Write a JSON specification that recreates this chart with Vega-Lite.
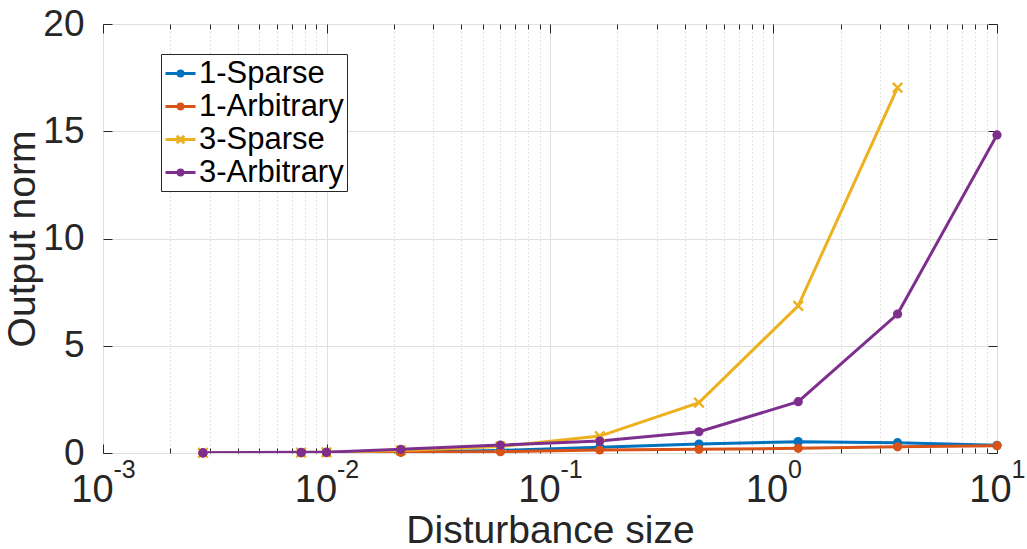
{
  "$schema": "https://vega.github.io/schema/vega-lite/v6.json",
  "autosize": {"type": "none"},
  "width": 894,
  "height": 429,
  "padding": {"left": 103, "top": 24, "right": 30, "bottom": 96},
  "background": "white",
  "config": {
    "view": {"stroke": "#262626", "strokeWidth": 1},
    "font": "Liberation Sans",
    "axis": {
      "domain": false,
      "labelFont": "Liberation Sans",
      "titleFont": "Liberation Sans",
      "labelColor": "#262626",
      "titleColor": "#262626",
      "tickColor": "#262626",
      "titleFontWeight": "normal",
      "labelFontSize": 37,
      "titleFontSize": 39
    }
  },
  "datasets": {
    "runs": [
      {"series": "1-Sparse", "size": 0.0028, "norm": 0.005},
      {"series": "1-Sparse", "size": 0.0077, "norm": 0.015},
      {"series": "1-Sparse", "size": 0.01, "norm": 0.02},
      {"series": "1-Sparse", "size": 0.0215, "norm": 0.05},
      {"series": "1-Sparse", "size": 0.06, "norm": 0.12},
      {"series": "1-Sparse", "size": 0.167, "norm": 0.27},
      {"series": "1-Sparse", "size": 0.464, "norm": 0.42},
      {"series": "1-Sparse", "size": 1.29, "norm": 0.53},
      {"series": "1-Sparse", "size": 3.59, "norm": 0.48},
      {"series": "1-Sparse", "size": 10, "norm": 0.36},
      {"series": "1-Arbitrary", "size": 0.0028, "norm": 0.003},
      {"series": "1-Arbitrary", "size": 0.0077, "norm": 0.008},
      {"series": "1-Arbitrary", "size": 0.01, "norm": 0.012},
      {"series": "1-Arbitrary", "size": 0.0215, "norm": 0.03},
      {"series": "1-Arbitrary", "size": 0.06, "norm": 0.06},
      {"series": "1-Arbitrary", "size": 0.167, "norm": 0.14},
      {"series": "1-Arbitrary", "size": 0.464, "norm": 0.17},
      {"series": "1-Arbitrary", "size": 1.29, "norm": 0.22},
      {"series": "1-Arbitrary", "size": 3.59, "norm": 0.29},
      {"series": "1-Arbitrary", "size": 10, "norm": 0.34},
      {"series": "3-Sparse", "size": 0.0028, "norm": 0.006},
      {"series": "3-Sparse", "size": 0.0077, "norm": 0.02},
      {"series": "3-Sparse", "size": 0.01, "norm": 0.03},
      {"series": "3-Sparse", "size": 0.0215, "norm": 0.12},
      {"series": "3-Sparse", "size": 0.06, "norm": 0.3},
      {"series": "3-Sparse", "size": 0.167, "norm": 0.79},
      {"series": "3-Sparse", "size": 0.464, "norm": 2.35},
      {"series": "3-Sparse", "size": 1.29, "norm": 6.86},
      {"series": "3-Sparse", "size": 3.59, "norm": 17.03},
      {"series": "3-Arbitrary", "size": 0.0028, "norm": 0.01},
      {"series": "3-Arbitrary", "size": 0.0077, "norm": 0.03},
      {"series": "3-Arbitrary", "size": 0.01, "norm": 0.04},
      {"series": "3-Arbitrary", "size": 0.0215, "norm": 0.17},
      {"series": "3-Arbitrary", "size": 0.06, "norm": 0.37},
      {"series": "3-Arbitrary", "size": 0.167, "norm": 0.56},
      {"series": "3-Arbitrary", "size": 0.464, "norm": 0.99},
      {"series": "3-Arbitrary", "size": 1.29, "norm": 2.39},
      {"series": "3-Arbitrary", "size": 3.59, "norm": 6.48},
      {"series": "3-Arbitrary", "size": 10, "norm": 14.83}
    ]
  },
  "data": {"name": "runs"},
  "resolve": {"axis": {"x": "independent", "y": "independent"}},
  "layer": [
    {
      "mark": {"type": "line", "strokeWidth": 3, "clip": true},
      "encoding": {
        "x": {
          "field": "size", "type": "quantitative",
          "scale": {"type": "log", "domain": [0.001, 10], "nice": false},
          "axis": {
            "orient": "bottom",
            "values": [0.001, 0.01, 0.1, 1, 10],
            "labelExpr": "'10'",
            "labelFontSize": 38,
            "labelOffset": {"condition": {"test": "datum.value < 0.5", "value": -11}, "value": -7},
            "tickSize": -9,
            "labelPadding": 27,
            "labelFlush": false,
            "grid": true,
            "gridColor": "#dfdfdf",
            "gridWidth": 1,
            "title": "Disturbance size",
            "titlePadding": 2
          }
        },
        "y": {
          "field": "norm", "type": "quantitative",
          "scale": {"domain": [0, 20], "nice": false, "zero": true},
          "axis": {
            "orient": "left",
            "values": [0, 5, 10, 15, 20],
            "tickSize": -9,
            "labelPadding": 28,
            "grid": true,
            "gridColor": "#dfdfdf",
            "gridWidth": 1,
            "title": "Output norm",
            "titlePadding": 0
          }
        },
        "color": {
          "field": "series", "type": "nominal",
          "scale": {
            "domain": ["1-Sparse", "1-Arbitrary", "3-Sparse", "3-Arbitrary"],
            "range": ["#0072BD", "#D95319", "#EDB120", "#7E2F8E"]
          },
          "legend": {
            "title": null,
            "orient": "none",
            "legendX": 58,
            "legendY": 30,
            "padding": 3,
            "strokeColor": "#262626",
            "fillColor": "white",
            "labelFont": "Liberation Sans",
            "labelFontSize": 31,
            "labelColor": "#000000",
            "labelOffset": 2,
            "symbolSize": 900,
            "symbolStrokeWidth": 3,
            "symbolType": {"expr": "datum.value === '3-Sparse' ? 'M-1,0L1,0M-0.25,-0.25L0.25,0.25M-0.25,0.25L0.25,-0.25' : 'M-1,0L1,0M0.16,0A0.16,0.16,0,1,1,-0.16,0A0.16,0.16,0,1,1,0.16,0'"},
            "rowPadding": 1
          }
        }
      }
    },
    {
      "transform": [{"filter": "datum.series === '3-Sparse'"}],
      "mark": {"type": "point", "shape": "M-1,-1L1,1M-1,1L1,-1", "filled": false, "opacity": 1, "size": 90, "strokeWidth": 2.4},
      "encoding": {
        "x": {
          "field": "size", "type": "quantitative",
          "axis": {
            "orient": "top",
            "values": [0.001, 0.01, 0.1, 1, 10],
            "labels": false,
            "tickSize": -9,
            "grid": false,
            "title": null
          }
        },
        "y": {"field": "norm", "type": "quantitative", "axis": null},
        "color": {"field": "series", "type": "nominal", "legend": null}
      }
    },
    {
      "transform": [{"filter": "datum.series !== '3-Sparse'"}],
      "mark": {"type": "point", "shape": "circle", "filled": true, "opacity": 1, "size": 85},
      "encoding": {
        "x": {
          "field": "size", "type": "quantitative",
          "axis": {
            "orient": "bottom",
            "values": [0.002, 0.003, 0.004, 0.005, 0.006, 0.007, 0.008, 0.009, 0.02, 0.03, 0.04, 0.05, 0.06, 0.07, 0.08, 0.09, 0.2, 0.3, 0.4, 0.5, 0.6, 0.7, 0.8, 0.9, 2, 3, 4, 5, 6, 7, 8, 9],
            "labels": false,
            "tickSize": -5,
            "grid": true,
            "gridColor": "#c4c4c4",
            "gridDash": [1, 3],
            "gridWidth": 1,
            "title": null
          }
        },
        "y": {
          "field": "norm", "type": "quantitative",
          "axis": {
            "orient": "right",
            "values": [0, 5, 10, 15, 20],
            "labels": false,
            "tickSize": -9,
            "grid": false,
            "title": null
          }
        },
        "color": {"field": "series", "type": "nominal", "legend": null}
      }
    },
    {
      "mark": {"type": "point", "size": 0, "opacity": 0},
      "encoding": {
        "x": {
          "field": "size", "type": "quantitative",
          "axis": {
            "orient": "top",
            "values": [0.002, 0.003, 0.004, 0.005, 0.006, 0.007, 0.008, 0.009, 0.02, 0.03, 0.04, 0.05, 0.06, 0.07, 0.08, 0.09, 0.2, 0.3, 0.4, 0.5, 0.6, 0.7, 0.8, 0.9, 2, 3, 4, 5, 6, 7, 8, 9],
            "labels": false,
            "tickSize": -5,
            "grid": false,
            "title": null
          }
        },
        "y": {"field": "norm", "type": "quantitative", "axis": null}
      }
    },
    {
      "mark": {"type": "point", "size": 0, "opacity": 0},
      "encoding": {
        "x": {
          "field": "size", "type": "quantitative",
          "axis": {
            "orient": "bottom",
            "values": [0.001, 0.01, 0.1, 1, 10],
            "labelExpr": "['-3','-2','-1','0','1'][round(log(datum.value)/LN10)+3]",
            "labelFontSize": 25,
            "labelAlign": "left",
            "labelOffset": {"condition": {"test": "datum.value < 0.5", "value": 10}, "value": 14},
            "labelPadding": 4,
            "labelFlush": false,
            "ticks": false,
            "grid": false,
            "title": null
          }
        },
        "y": {"field": "norm", "type": "quantitative", "axis": null}
      }
    }
  ]
}
